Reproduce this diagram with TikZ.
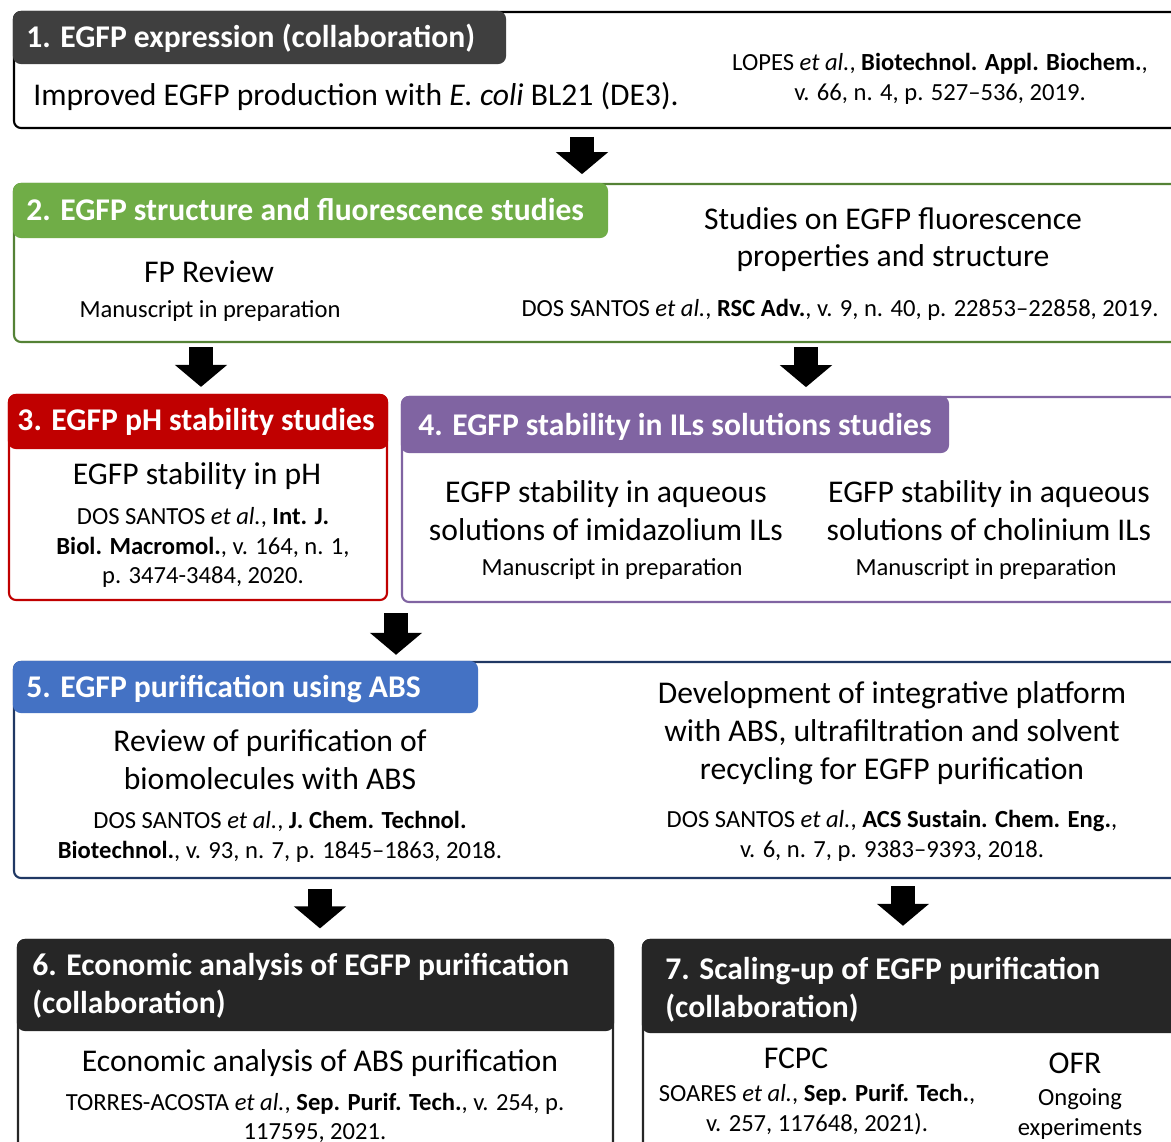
\documentclass[tikz,border=0pt]{standalone}
\usepackage{fontspec}
\setmainfont{Carlito}
\usetikzlibrary{arrows.meta,fit}
\definecolor{darkhead}{HTML}{3F3F3F}
\definecolor{blackhead}{HTML}{262626}
\definecolor{greenhead}{HTML}{70AD47}
\definecolor{greenline}{HTML}{548235}
\definecolor{redhead}{HTML}{C00000}
\definecolor{purplehead}{HTML}{8064A2}
\definecolor{bluehead}{HTML}{4472C4}
\definecolor{blueline}{HTML}{203864}
\begin{document}
\begin{tikzpicture}[x=0.02cm,y=-0.02cm,
  frame/.style={draw=#1, line width=1.2pt, rounded corners=4pt, fill=white, inner sep=0pt},
  tab/.style={fill=#1, draw=#1, line width=1.2pt, rounded corners=4pt, inner sep=0pt},
  big/.style={font=\fontsize{18}{21.5}\selectfont, inner sep=0pt, align=center},
  small/.style={font=\fontsize{14}{17}\selectfont, inner sep=0pt, align=center},
  head/.style={font=\bfseries\fontsize{18}{21.5}\selectfont, text=white, inner sep=0pt, align=left},
  flow/.style={line width=14pt, -{Triangle[width=29pt,length=12.5pt]}}]
\useasboundingbox (0,0) rectangle (1171,1142);
\clip (0,0) rectangle (1171,1142);

% ---------- 1. expression ----------
\node[frame=black, fit={(14,12) (1200,128)}] (b1) {};
\node[tab=darkhead, fit={(14,12) (505,63)}] (h1) {};
\node[head, anchor=west] (t1) at (26,38) {1. EGFP expression (collaboration)};
\node[big, anchor=west] (p1) at (33,96) {Improved EGFP production with \emph{E. coli} BL21 (DE3).};
\node[small] (c1) at (940,78.5) {LOPES \emph{et al.}, \textbf{Biotechnol. Appl. Biochem.},\\v. 66, n. 4, p. 527–536, 2019.};

% ---------- 2. structure and fluorescence ----------
\node[frame=greenline, fit={(14,184) (1200,342)}] (b2) {};
\node[tab=greenhead, fit={(14,184) (607,237)}] (h2) {};
\node[head, anchor=west] (t2) at (26,210) {2. EGFP structure and fluorescence studies};
\node[big] (p2a) at (209,272) {FP Review};
\node[small] (c2a) at (210,311) {Manuscript in preparation};
\node[big] (p2b) at (893,239.5) {Studies on EGFP fluorescence\\properties and structure};
\node[small] (c2b) at (840,310) {DOS SANTOS \emph{et al.}, \textbf{RSC Adv.}, v. 9, n. 40, p. 22853–22858, 2019.};

% ---------- 3. pH stability ----------
\node[frame=redhead, fit={(9,395) (387,600)}] (b3) {};
\node[tab=redhead, fit={(9,395) (387,448)}] (h3) {};
\node[head] (t3) at (196,422) {3. EGFP pH stability studies};
\node[big] (p3) at (197,476) {EGFP stability in pH};
\node[small] (c3) at (203,547.5) {DOS SANTOS \emph{et al.}, \textbf{Int. J.}\\\textbf{Biol. Macromol.}, v. 164, n. 1,\\p. 3474-3484, 2020.};

% ---------- 4. stability in ILs ----------
\node[frame=purplehead, fit={(402,397) (1200,602)}] (b4) {};
\node[tab=purplehead, fit={(402,397) (948,452)}] (h4) {};
\node[head, anchor=west] (t4) at (418,427) {4. EGFP stability in ILs solutions studies};
\node[big] (p4a) at (606,511) {EGFP stability in aqueous\\solutions of imidazolium ILs};
\node[small] (c4a) at (612,569) {Manuscript in preparation};
\node[big] (p4b) at (989,511) {EGFP stability in aqueous\\solutions of cholinium ILs};
\node[small] (c4b) at (986,569) {Manuscript in preparation};

% ---------- 5. purification with ABS ----------
\node[frame=blueline, fit={(14,662) (1200,878)}] (b5) {};
\node[tab=bluehead, fit={(14,662) (477,712)}] (h5) {};
\node[head, anchor=west] (t5) at (26,689) {5. EGFP purification using ABS};
\node[big] (p5a) at (270,760) {Review of purification of\\biomolecules with ABS};
\node[small] (c5a) at (280,837) {DOS SANTOS \emph{et al.}, \textbf{J. Chem. Technol.}\\\textbf{Biotechnol.}, v. 93, n. 7, p. 1845–1863, 2018.};
\node[big] (p5b) at (892,733) {Development of integrative platform\\with ABS, ultrafiltration and solvent\\recycling for EGFP purification};
\node[small] (c5b) at (892,836) {DOS SANTOS \emph{et al.}, \textbf{ACS Sustain. Chem. Eng.},\\v. 6, n. 7, p. 9383–9393, 2018.};

% ---------- 6. economic analysis ----------
\node[frame=blackhead, fit={(18,940) (613,1200)}] (b6) {};
\node[tab=blackhead, fit={(18,940) (613,1030)}] (h6) {};
\node[head, anchor=west] (t6) at (32,986) {6. Economic analysis of EGFP purification\\(collaboration)};
\node[big] (p6) at (320,1063) {Economic analysis of ABS purification};
\node[small] (c6) at (315,1118) {TORRES-ACOSTA \emph{et al.}, \textbf{Sep. Purif. Tech.}, v. 254, p.\\117595, 2021.};

% ---------- 7. scaling-up ----------
\node[frame=blackhead, fit={(643,940) (1200,1200)}] (b7) {};
\node[tab=blackhead, fit={(643,940) (1200,1032)}] (h7) {};
\node[head, anchor=west] (t7) at (665,990) {7. Scaling-up of EGFP purification\\(collaboration)};
\node[big] (p7a) at (796,1058) {FCPC};
\node[small] (c7a) at (817,1109.5) {SOARES \emph{et al.}, \textbf{Sep. Purif. Tech.},\\v. 257, 117648, 2021).};
\node[big] (p7b) at (1075,1063) {OFR};
\node[small] (c7b) at (1080,1114) {Ongoing\\experiments};

% ---------- flow arrows ----------
\coordinate (x1) at (582,0);
\coordinate (x2) at (201,0);
\coordinate (x3) at (806,0);
\coordinate (x4) at (396,0);
\coordinate (x5) at (320,0);
\coordinate (x6) at (903,0);
\draw[flow] ([yshift=-4.5pt]b1.south -| x1) -- ([yshift=5pt]b2.north -| x1);
\draw[flow] ([yshift=-2.5pt]b2.south -| x2) -- ([yshift=4pt]b3.north -| x2);
\draw[flow] ([yshift=-2.5pt]b2.south -| x3) -- ([yshift=5pt]b4.north -| x3);
\draw[flow] ([yshift=-7pt]b3.south -| x4) -- ([yshift=3.5pt]b5.north -| x4);
\draw[flow] ([yshift=-5.5pt]b5.south -| x5) -- ([yshift=6pt]b6.north -| x5);
\draw[flow] ([yshift=-4pt]b5.south -| x6) -- ([yshift=7.5pt]b7.north -| x6);
\end{tikzpicture}
\end{document}
